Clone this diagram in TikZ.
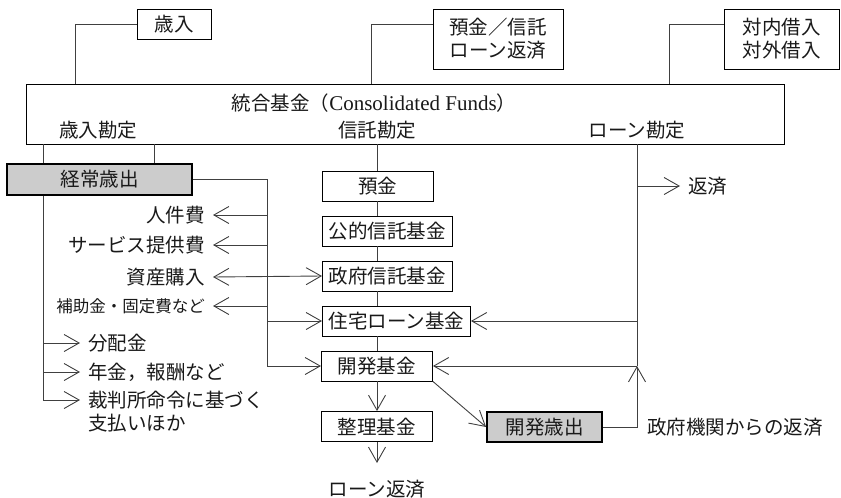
\documentclass[tikz,border=0pt]{standalone}
\usepackage{fontspec}
\setmainfont{Noto Sans CJK JP}
\newfontfamily\latinserif{Liberation Serif}
\usetikzlibrary{arrows.meta}
\begin{document}
\begin{tikzpicture}[x=1pt,y=-1pt,
  font=\fontsize{19.5}{23}\selectfont,
  conn/.style={draw=black!75, line width=0.9pt},
  arr/.style={conn, -{Straight Barb[length=15pt,width=17pt,line width=0.9pt]}},
  darr/.style={conn, {Straight Barb[length=15pt,width=17pt,line width=0.9pt]}-{Straight Barb[length=15pt,width=17pt,line width=0.9pt]}},
  box/.style={draw=black, line width=0.9pt, minimum height=30pt, inner sep=0pt, text=black!90},
  graybox/.style={box, fill=black!20, line width=1.8pt},
  txt/.style={inner sep=0pt, text=black!90},
  lbl/.style={inner ysep=0pt, inner xsep=8pt, text=black!90}]
\useasboundingbox (0,0) rectangle (841,498);
% top boxes
\node[box, minimum width=74pt] (rev) at (174,24) {歳入};
\node[box, minimum width=130pt, minimum height=60pt, align=center] (dep) at (498,39) {預金／信託\\ローン返済};
\node[box, minimum width=115pt, minimum height=60pt, align=center] (bor) at (781.5,39) {対内借入\\対外借入};
% main box
\node[box, minimum width=758pt, minimum height=60pt] (main) at (405,114) {};
\node[txt] (title) at (374,103) {統合基金（{\latinserif\fontsize{21}{23}\selectfont Consolidated Funds}）};
\node[txt] (acc1) at (98,130) {歳入勘定};
\node[txt] (acc2) at (377,130) {信託勘定};
\node[txt] (acc3) at (637,130) {ローン勘定};
% helper columns
\coordinate (c1) at (75,0);
\coordinate (c2) at (371,0);
\coordinate (c3) at (669,0);
\coordinate (lx) at (43,0);
\coordinate (lx2) at (154,0);
\coordinate (sv) at (267,0);
\coordinate (cx) at (377,0);
\coordinate (rx) at (637,0);
% top connectors
\draw[conn] (rev.west) -| (main.north -| c1);
\draw[conn] (dep.west |- rev.west) -| (main.north -| c2);
\draw[conn] (bor.west |- rev.west) -| (main.north -| c3);
% left column
\node[graybox, minimum width=185pt, minimum height=31pt] (kei) at (99.5,179.5) {経常歳出};
\node[lbl, anchor=east] (l1) at (213,215) {人件費};
\node[lbl, anchor=east] (l2) at (213,245) {サービス提供費};
\node[lbl, anchor=east] (l3) at (213,277) {資産購入};
\node[lbl, anchor=east, font=\fontsize{16.5}{19}\selectfont] (l4) at (213,306) {補助金・固定費など};
\node[lbl, anchor=west] (r1) at (80,343) {分配金};
\node[lbl, anchor=west] (r2) at (80,372) {年金，報酬など};
\node[lbl, anchor=west] (r3) at (80,400) {裁判所命令に基づく};
\node[txt, anchor=west] (r4) at (88,423) {支払いほか};
% center column
\node[box, anchor=west, minimum width=111pt] (yokin) at (322,186) {預金};
\node[box, anchor=west, minimum width=130pt] (kouteki) at (322,231) {公的信託基金};
\node[box, anchor=west, minimum width=130pt] (seifu) at (322,276) {政府信託基金};
\node[box, anchor=west, minimum width=148pt] (jutaku) at (322,321) {住宅ローン基金};
\node[box, anchor=west, minimum width=111pt] (kaihatsu) at (321,366) {開発基金};
\node[box, anchor=west, minimum width=111pt] (seiri) at (321,426.5) {整理基金};
\node[txt] (lr) at (377,489) {ローン返済};
\coordinate (lrtop) at (377,463);
\node[graybox, minimum width=115pt] (kaisai) at (544.5,427) {開発歳出};
\node[lbl, anchor=west] (ret) at (680,186) {返済};
\node[txt, anchor=west] (gov) at (647,427) {政府機関からの返済};
% left connectors
\draw[conn] (main.south -| lx2) -- (kei.north -| lx2);
\draw[conn] (main.south -| lx) -- (kei.north -| lx);
\draw[arr] (kei.south -| lx) |- (r3.west);
\draw[arr] (lx |- r1.west) -- (r1.west);
\draw[arr] (lx |- r2.west) -- (r2.west);
\draw[arr] (kei.east) -| (sv |- kaihatsu.west) -- (kaihatsu.west);
\draw[arr] (sv |- l1.east) -- (l1.east);
\draw[arr] (sv |- l2.east) -- (l2.east);
\draw[darr] (l3.east) -- (seifu.west);
\draw[arr] (sv |- l4.east) -- (l4.east);
\draw[arr] (sv |- jutaku.west) -- (jutaku.west);
% center connectors
\draw[conn] (main.south -| cx) -- (yokin.north -| cx);
\draw[conn] (yokin.south -| cx) -- (kouteki.north -| cx);
\draw[conn] (kouteki.south -| cx) -- (seifu.north -| cx);
\draw[conn] (seifu.south -| cx) -- (jutaku.north -| cx);
\draw[conn] (jutaku.south -| cx) -- (kaihatsu.north -| cx);
\draw[arr] (kaihatsu.south -| cx) -- (seiri.north -| cx);
\draw[arr] (seiri.south -| cx) -- (lrtop);
\draw[arr] (kaihatsu.south east) -- (kaisai.west);
% right connectors
\draw[conn] (main.south -| rx) -- (rx |- kaihatsu.east);
\draw[arr] (rx |- ret.west) -- (ret.west);
\draw[arr] (rx |- jutaku.east) -- (jutaku.east);
\draw[arr] (rx |- kaihatsu.east) -- (kaihatsu.east);
\draw[arr] (kaisai.east) -| (rx |- kaihatsu.east);
\end{tikzpicture}
\end{document}
